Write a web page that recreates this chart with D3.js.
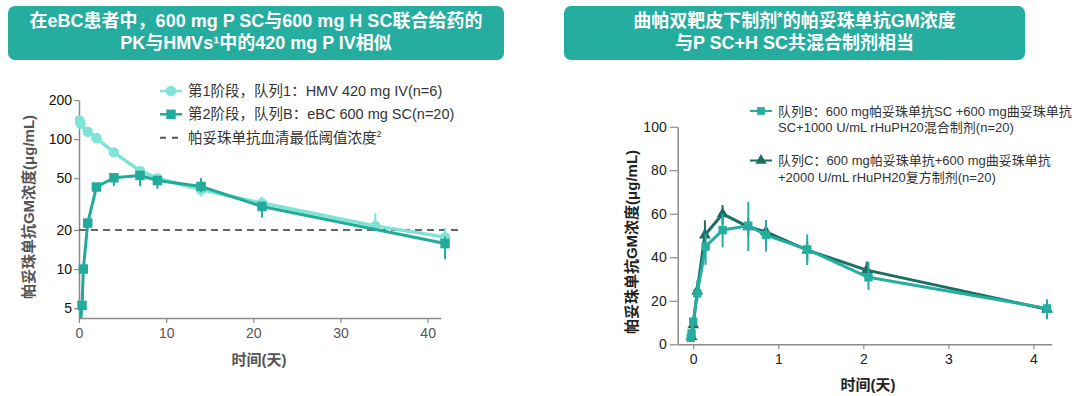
<!DOCTYPE html>
<html><head><meta charset="utf-8">
<script src="https://cdn.jsdelivr.net/npm/d3@7"></script>
<style>
html,body{margin:0;padding:0;background:#fff;}
svg{display:block;font-family:"Liberation Sans","Noto Sans CJK SC",sans-serif;}
</style></head>
<body><svg id="c" width="1080" height="396"></svg>
<script>
// ---------- data ----------
const leftTicksY = [5, 10, 20, 50, 100, 200];
const leftTicksX = [0, 10, 20, 30, 40];
const threshold = 20;

const hmvTime = [0.05, 0.2, 1, 2, 4, 7, 9, 14, 21, 34, 42];
const hmvVal  = [139, 131, 114, 102, 79, 57, 50, 40.8, 32.2, 21.5, 17.6];
const hmvLo   = [139, 131, 114, 102, 79, 57, 48, 36.2, 29.5, 20, 16.3];
const hmvHi   = [139, 131, 114, 102, 79, 57, 51, 43, 36.2, 27, 20.7];

const ebcTime = [0, 0.35, 0.5, 1, 2, 4, 7, 9, 14, 21, 42];
const ebcVal  = [3, 5.25, 10, 22.6, 42.8, 50.4, 52.5, 48, 43.2, 30.3, 15.7];
const ebcLo   = [3, 5.25, 10, 22.6, 40, 43.6, 43.6, 41.5, 39, 24.9, 11.9];
const ebcHi   = [3, 5.25, 10, 22.6, 44, 53, 55, 50, 50.1, 33, 17.8];

const rightTicksY = [0, 20, 40, 60, 80, 100];
const rightTicksX = [0, 1, 2, 3, 4];

const bTime = [-0.03, -0.02, 0, 0.047, 0.145, 0.345, 0.647, 0.855, 1.34, 2.06, 4.16];
const bVal  = [3, 5, 10.4, 23.4, 44.9, 52.5, 54.5, 50.2, 43.6, 30.8, 16.5];
const bLo   = [2, 3.5, 8, 20.4, 36.5, 44.5, 42.9, 42.6, 36.4, 25, 11.5];
const bHi   = [4, 6.5, 12.5, 29.5, 51, 60, 65.5, 57.1, 50.5, 38, 20.7];

const cTime = [-0.02, 0, 0.047, 0.137, 0.345, 0.647, 0.855, 1.34, 2.04, 4.16];
const cVal  = [3.5, 8.9, 24.5, 50.2, 59.9, 54, 51.7, 43.3, 34.1, 16.1];
const cLo   = [2.5, 7, 21, 45, 55, 50, 47, 38, 30.5, 12.5];
const cHi   = [4.5, 11, 28, 57, 64, 58, 56.5, 47, 38, 19.5];

const leftTitle = ["在eBC患者中，600 mg P SC与600 mg H SC联合给药的", "PK与HMVs¹中的420 mg P IV相似"];
const rightTitle = [["曲帕双靶皮下制剂", "*", "的帕妥珠单抗GM浓度"], ["与P SC+H SC共混合制剂相当"]];
const yTitle = "帕妥珠单抗GM浓度(μg/mL)";
const xTitle = "时间(天)";
const leftLegend = ["第1阶段，队列1：HMV 420 mg IV(n=6)", "第2阶段，队列B：eBC 600 mg SC(n=20)", "帕妥珠单抗血清最低阈值浓度"];
const rightLegend = [["队列B：600 mg帕妥珠单抗SC +600 mg曲妥珠单抗", "SC+1000 U/mL rHuPH20混合制剂(n=20)"],
                     ["队列C：600 mg帕妥珠单抗+600 mg曲妥珠单抗", "+2000 U/mL rHuPH20复方制剂(n=20)"]];

// ---------- style ----------
const TEAL = "#25ada0", LIGHT = "#7fe3d5", DARK1 = "#22ab9b", DARKC = "#1b6e63", AX = "#8a8a8a";

const svg = d3.select("#c");

// title boxes
function titleBox(x, w, lines) {
  svg.append("rect").attr("x", x).attr("y", 6).attr("width", w).attr("height", 54)
    .attr("rx", 7).attr("fill", TEAL);
  lines.forEach((ln, i) => {
    const t = svg.append("text").attr("x", x + w / 2).attr("y", 27 + i * 21.5)
      .attr("text-anchor", "middle").attr("fill", "#fff").attr("font-weight", "bold").attr("font-size", 18);
    if (typeof ln === "string") t.text(ln);
    else ln.forEach((seg, k) => {
      const s = t.append("tspan").text(seg);
      if (seg === "*") s.attr("font-size", 14).attr("dy", -5);
      else if (k > 0) s.attr("dy", 5);
    });
  });
}
titleBox(8, 496, leftTitle);
titleBox(564, 461, rightTitle);

// ---------- left chart ----------
const xL = d3.scaleLinear().domain([0, 41.5]).range([79, 440.7]);
const yL = d3.scaleLog().domain([4.2, 200]).range([318, 100]);

const gxL = svg.append("g").attr("transform", "translate(0,318)")
  .call(d3.axisBottom(xL).tickValues(leftTicksX).tickFormat(d3.format("d")).tickSize(5).tickSizeOuter(0).tickPadding(5));
const gyL = svg.append("g").attr("transform", "translate(79,0)")
  .call(d3.axisLeft(yL).tickValues(leftTicksY).tickFormat(d3.format("d")).tickSize(5).tickSizeOuter(0).tickPadding(2));
[gxL, gyL].forEach(g => {
  g.select(".domain").attr("stroke", AX).attr("stroke-width", 1.5);
  g.selectAll(".tick line").attr("stroke", AX).attr("stroke-width", 1.2);
  g.selectAll(".tick text").attr("font-size", 14).attr("font-family", "Liberation Sans, sans-serif");
});
gxL.selectAll(".tick text").attr("fill", "#555");
gyL.selectAll(".tick text").attr("fill", "#111");

// threshold
svg.append("line").attr("x1", xL(0)).attr("x2", xL(43.5)).attr("y1", yL(threshold)).attr("y2", yL(threshold))
  .attr("stroke", "#666").attr("stroke-width", 2).attr("stroke-dasharray", "7,5");

svg.append("clipPath").attr("id", "clipL").append("rect").attr("x", 75).attr("y", 90).attr("width", 395).attr("height", 228);
const gL = svg.append("g").attr("clip-path", "url(#clipL)");

function drawSeries(g, xs, ys, times, vals, lo, hi, color, lw, marker, msize, minV) {
  const pts = times.map((t, i) => ({ t, v: vals[i], lo: lo[i], hi: hi[i] }));
  g.append("path").datum(pts).attr("fill", "none").attr("stroke", color).attr("stroke-width", lw)
    .attr("stroke-linejoin", "round")
    .attr("d", d3.line().x(d => xs(d.t)).y(d => ys(d.v)));
  const vis = pts.filter(d => d.v >= minV);
  g.selectAll(null).data(vis.filter(d => d.hi !== d.lo)).join("line")
    .attr("x1", d => xs(d.t)).attr("x2", d => xs(d.t))
    .attr("y1", d => ys(d.lo)).attr("y2", d => ys(d.hi))
    .attr("stroke", color).attr("stroke-width", 2);
  const sym = d3.symbol().type(marker).size(msize);
  g.selectAll(null).data(vis).join("path")
    .attr("transform", d => `translate(${xs(d.t)},${ys(d.v)})`)
    .attr("d", sym).attr("fill", color);
}
drawSeries(gL, xL, yL, hmvTime, hmvVal, hmvLo, hmvHi, LIGHT, 3.5, d3.symbolCircle, 85, 4.2);
drawSeries(gL, xL, yL, ebcTime, ebcVal, ebcLo, ebcHi, DARK1, 3, d3.symbolSquare, 90, 4.2);

// left axis titles
svg.append("text").attr("transform", "translate(34,207) rotate(-90)").attr("text-anchor", "middle")
  .attr("font-size", 15).attr("font-weight", "bold").attr("fill", "#555").text(yTitle);
svg.append("text").attr("x", 259).attr("y", 365).attr("text-anchor", "middle")
  .attr("font-size", 15).attr("font-weight", "bold").attr("fill", "#555").text(xTitle);

// left legend
const legL = svg.append("g");
[[LIGHT, d3.symbolCircle, 85], [DARK1, d3.symbolSquare, 90]].forEach((s, i) => {
  const y = 91 + i * 23.3;
  legL.append("line").attr("x1", 160).attr("x2", 182).attr("y1", y).attr("y2", y).attr("stroke", s[0]).attr("stroke-width", 2.5);
  legL.append("path").attr("transform", `translate(171,${y})`).attr("d", d3.symbol().type(s[1]).size(s[2])).attr("fill", s[0]);
  legL.append("text").attr("x", 188).attr("y", y + 5).attr("font-size", 14.5).attr("fill", "#333").text(leftLegend[i]);
});
legL.append("line").attr("x1", 160).attr("x2", 182).attr("y1", 137.8).attr("y2", 137.8)
  .attr("stroke", "#555").attr("stroke-width", 2).attr("stroke-dasharray", "6,6");
const lt3 = legL.append("text").attr("x", 188).attr("y", 142.8).attr("font-size", 14.5).attr("fill", "#333");
lt3.append("tspan").text(leftLegend[2]);
lt3.append("tspan").text("2").attr("font-size", 9).attr("dy", -6);

// ---------- right chart ----------
const xR = d3.scaleLinear().domain([-0.183, 4.215]).range([677.7, 1051.7]);
const yR = d3.scaleLinear().domain([0, 100]).range([344.3, 126.7]);

const gxR = svg.append("g").attr("transform", "translate(0,344.3)")
  .call(d3.axisBottom(xR).tickValues(rightTicksX).tickFormat(d3.format("d")).tickSize(5).tickSizeOuter(0).tickPadding(5));
const gyR = svg.append("g").attr("transform", "translate(677.7,0)")
  .call(d3.axisLeft(yR).tickValues(rightTicksY).tickFormat(d3.format("d")).tickSize(8).tickSizeOuter(0).tickPadding(3));
[gxR, gyR].forEach(g => {
  g.select(".domain").attr("stroke", AX).attr("stroke-width", 1.5);
  g.selectAll(".tick line").attr("stroke", AX).attr("stroke-width", 1.2);
  g.selectAll(".tick text").attr("font-size", 14).attr("fill", "#222").attr("font-family", "Liberation Sans, sans-serif");
});

const gR = svg.append("g");
drawSeries(gR, xR, yR, cTime, cVal, cLo, cHi, DARKC, 3, d3.symbolTriangle, 60, -1);
drawSeries(gR, xR, yR, bTime, bVal, bLo, bHi, TEAL, 3, d3.symbolSquare, 70, -1);

svg.append("text").attr("transform", "translate(637,242) rotate(-90)").attr("text-anchor", "middle")
  .attr("font-size", 15).attr("font-weight", "bold").attr("fill", "#222").text(yTitle);
svg.append("text").attr("x", 868).attr("y", 390).attr("text-anchor", "middle")
  .attr("font-size", 15).attr("font-weight", "bold").attr("fill", "#222").text(xTitle);

// right legend
[[TEAL, d3.symbolSquare, 60], [DARKC, d3.symbolTriangle, 55]].forEach((s, i) => {
  const y = 111 + i * 49.5;
  svg.append("line").attr("x1", 750).attr("x2", 772).attr("y1", y).attr("y2", y).attr("stroke", s[0]).attr("stroke-width", 2);
  svg.append("path").attr("transform", `translate(761,${y})`).attr("d", d3.symbol().type(s[1]).size(s[2])).attr("fill", s[0]);
  rightLegend[i].forEach((ln, k) => {
    svg.append("text").attr("x", 778).attr("y", y + 4.5 + k * 16.5).attr("font-size", 13).attr("fill", "#333").text(ln);
  });
});
</script></body></html>
